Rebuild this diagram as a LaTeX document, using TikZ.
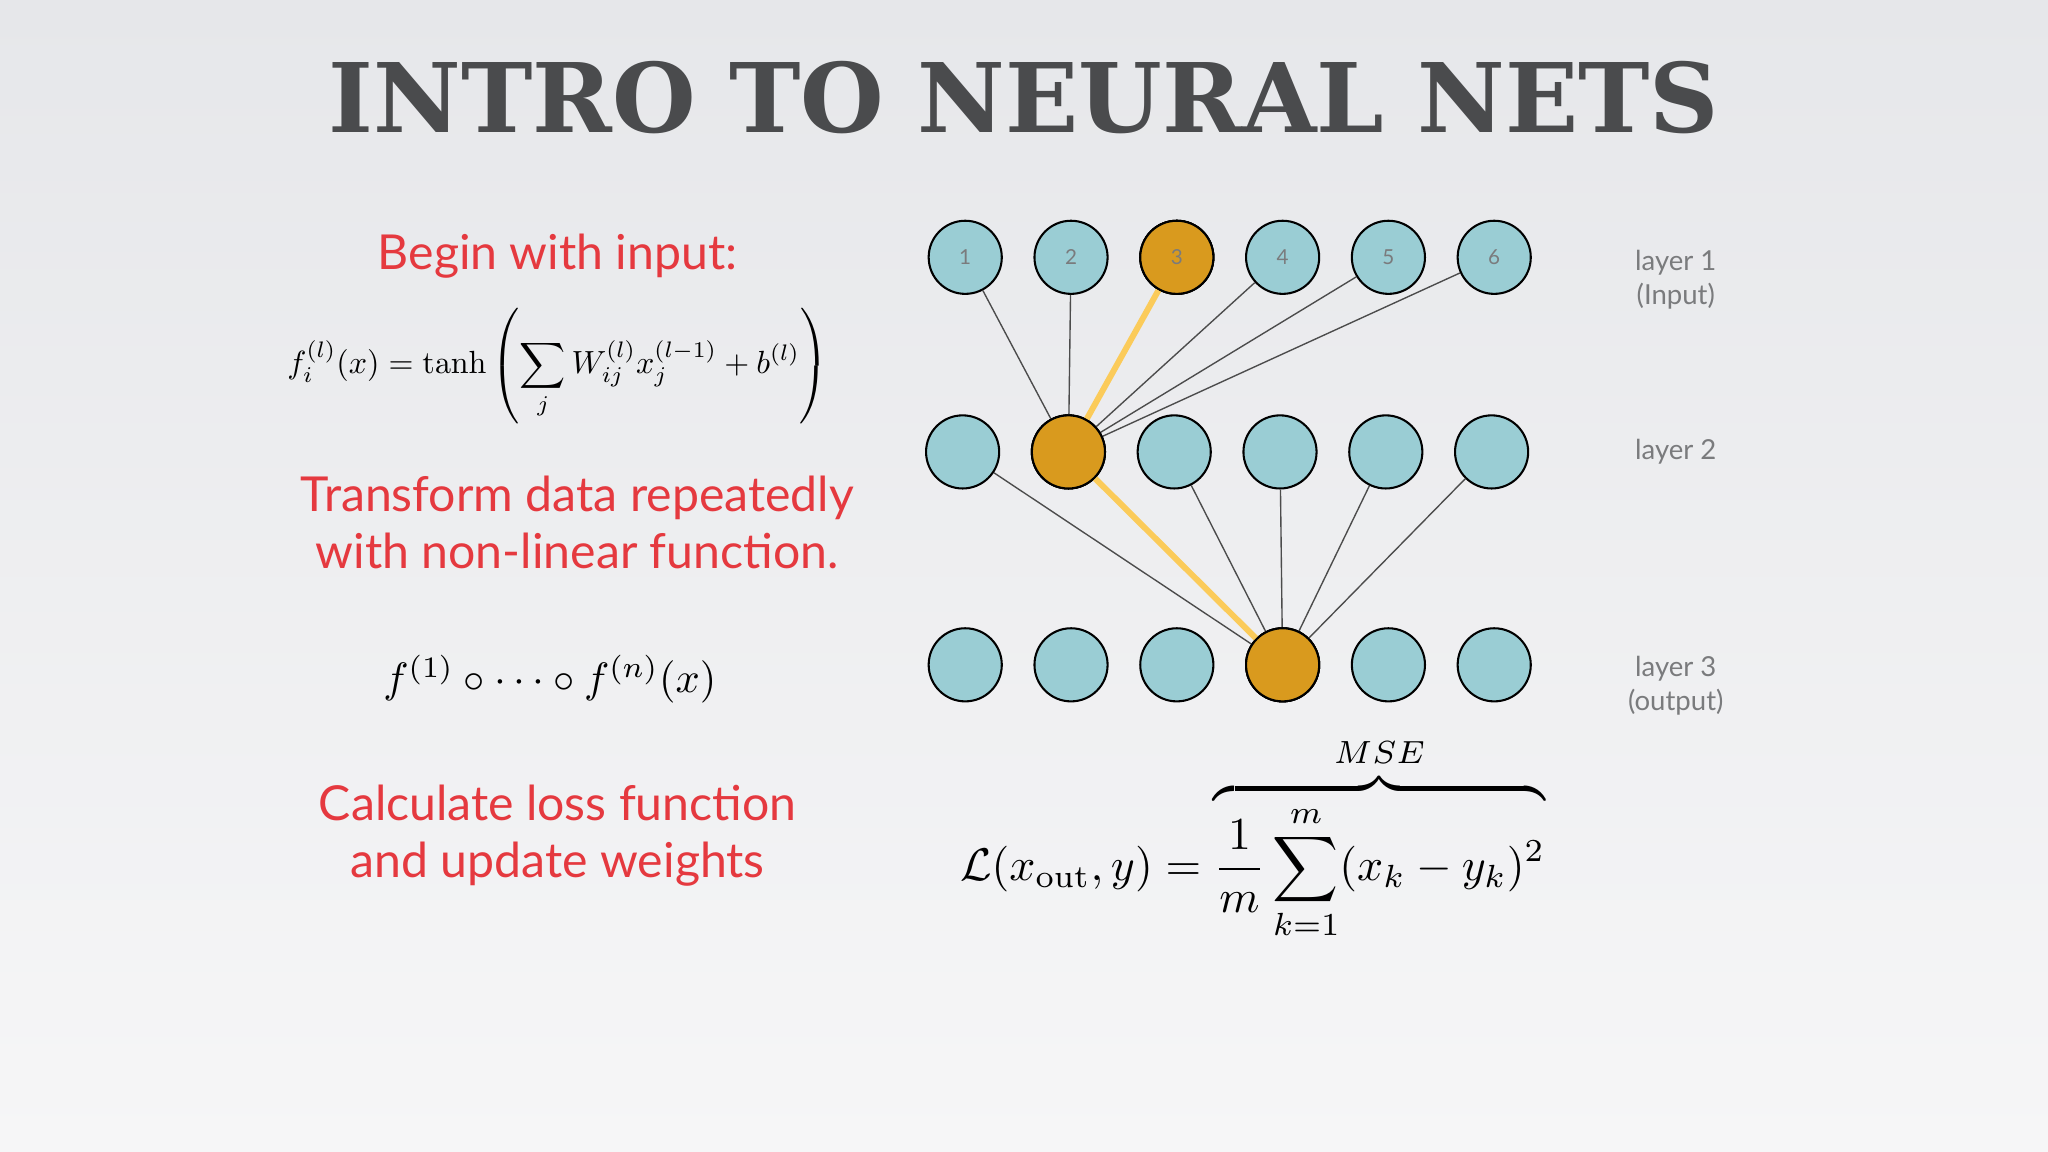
\documentclass[tikz,border=0pt]{standalone}
\usepackage{amsmath}
\usepackage[no-math]{fontspec}
\setmainfont{Lato}
\newfontfamily\titlefont{DejaVu Serif}
\usetikzlibrary{calc}
\definecolor{bgtop}{HTML}{E6E7EA}
\definecolor{bgbot}{HTML}{F6F6F7}
\definecolor{teal}{HTML}{9ACDD4}
\definecolor{gold}{HTML}{D99A1E}
\definecolor{hl}{HTML}{FBCB5A}
\definecolor{redtxt}{HTML}{E5393F}
\definecolor{titlegray}{HTML}{4A4B4D}
\definecolor{lblgray}{HTML}{7A7B7D}
\tikzset{
  neuron/.style={circle,draw=black,line width=0.9pt,minimum size=1.12cm,inner sep=0pt,fill=teal,font=\fontsize{9}{10}\selectfont\color{lblgray}},
  active/.style={neuron,fill=gold},
  wire/.style={draw=black!70,line width=0.6pt},
  hot/.style={draw=hl,line width=2.6pt},
  redtext/.style={text=redtxt,font=\fontsize{21}{25}\selectfont,align=center},
  lbl/.style={text=lblgray,font=\fontsize{12}{15}\selectfont,align=center}
}
\begin{document}
\begin{tikzpicture}[x=0.02cm,y=-0.02cm]
\shade[top color=bgtop,bottom color=bgbot] (0,0) rectangle (1568,882);
\useasboundingbox (0,0) rectangle (1568,882);
\node[text=titlegray] (title) at (784,75) {\resizebox{21.3cm}{!}{\titlefont\bfseries INTRO TO NEURAL NETS}};
% network
\foreach \i/\x in {1/739,2/820,3/901,4/982,5/1063,6/1144}{
  \node[neuron] (a\i) at (\x,197) {\i};
}
\node[active] (a3x) at (901,197) {3};
\foreach \i/\x in {1/737,2/818,3/899,4/980,5/1061,6/1142}{
  \node[neuron] (b\i) at (\x,346) {};
}
\node[active] (b2x) at (818,346) {};
\foreach \i/\x in {1/739,2/820,3/901,4/982,5/1063,6/1144}{
  \node[neuron] (c\i) at (\x,509) {};
}
\node[active] (c4x) at (982,509) {};
\foreach \i in {1,2,4,5,6}{ \draw[wire] (a\i) -- (b2x); }
\draw[hot] (a3x) -- (b2x);
\foreach \i in {1,3,4,5,6}{ \draw[wire] (b\i) -- (c4x); }
\draw[hot] (b2x) -- (c4x);
\node[active] (a3y) at (901,197) {3};
\node[active] (b2y) at (818,346) {};
\node[active] (c4y) at (982,509) {};
% labels
\node[lbl] (l1) at (1283,214) {layer 1\\(Input)};
\node[lbl] (l2) at (1283,346) {layer 2};
\node[lbl] (l3) at (1283,525) {layer 3\\(output)};
% left text
\node[redtext] (t1) at (427,196) {Begin with input:};
\node (f1) at (427,280) {\resizebox{8.28cm}{!}{$\displaystyle f_i^{(l)}(x)=\tanh\left(\sum_j W_{ij}^{(l)}x_j^{(l-1)}+b^{(l)}\right)$}};
\node[redtext] (t2) at (442,400) {Transform data repeatedly\\with non-linear function.};
\node (f2) at (421,520) {\resizebox{5.1cm}{!}{$f^{(1)}\circ\cdots\circ f^{(n)}(x)$}};
\node[redtext] (t3) at (427,640) {Calculate loss function\\and update weights};
\node (f3) at (959,642) {\resizebox{8.96cm}{!}{$\displaystyle \mathcal{L}(x_{\mathrm{out}},y)=\overbrace{\frac{1}{m}\sum_{k=1}^{m}(x_k-y_k)^2}^{MSE}$}};
\end{tikzpicture}
\end{document}
